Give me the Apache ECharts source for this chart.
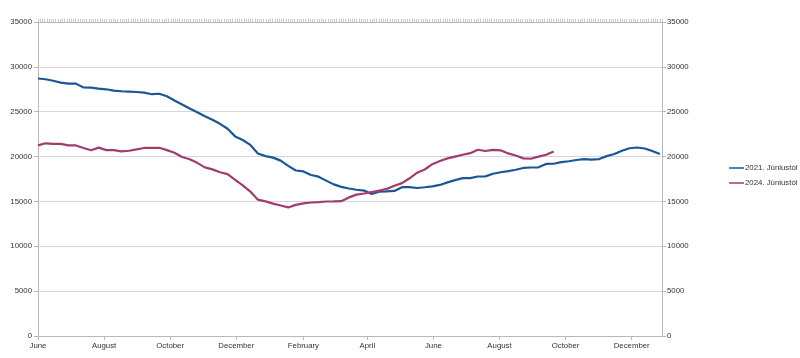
<!DOCTYPE html>
<html>
<head>
<meta charset="utf-8">
<script src="https://cdn.jsdelivr.net/npm/echarts@6/dist/echarts.min.js"></script>
<style>html,body{margin:0;padding:0;background:#fff}#c{width:800px;height:358px}</style>
</head>
<body>
<div id="c"></div>
<script>
// Days since June 1 at which month labels sit
const tickDays = [0, 61, 122, 183, 245, 304, 365, 426, 487, 548];
const tickLabels = ['June', 'August', 'October', 'December', 'February', 'April', 'June', 'August', 'October', 'December'];
const seriesNames = ['2021. Júniustól', '2024. Júniustól'];
// weekly values (one point per week from June 1)
const values2021 = [28700, 28620, 28450, 28250, 28130, 28130, 27700, 27680, 27580, 27500,
  27350, 27280, 27250, 27200, 27120, 26950, 27000, 26720, 26250, 25800,
  25350, 24950, 24500, 24100, 23650, 23100, 22250, 21850, 21300, 20350,
  20050, 19880, 19550, 18960, 18450, 18340, 17950, 17760, 17320, 16900,
  16620, 16440, 16300, 16210, 15820, 16080, 16120, 16170, 16590, 16600,
  16500, 16580, 16680, 16840, 17120, 17380, 17600, 17600, 17780, 17790,
  18080, 18250, 18380, 18530, 18730, 18780, 18800, 19180, 19200, 19380,
  19480, 19620, 19720, 19650, 19720, 20050, 20280, 20650, 20930, 21010,
  20900, 20620, 20280];
const values2024 = [21250, 21480, 21420, 21420, 21250, 21240, 20950, 20700, 21000, 20720,
  20720, 20580, 20650, 20800, 20960, 20980, 20980, 20720, 20420, 19950,
  19700, 19300, 18800, 18570, 18250, 18050, 17400, 16800, 16100, 15200,
  15000, 14750, 14550, 14330, 14620, 14780, 14880, 14930, 14990, 15000,
  15030, 15450, 15760, 15880, 16050, 16200, 16400, 16750, 17040, 17580,
  18200, 18560, 19150, 19500, 19800, 20000, 20200, 20380, 20760, 20620,
  20740, 20700, 20350, 20120, 19800, 19760, 20000, 20200, 20570];
const colors = ['#1b5796', '#a23c6e'];
const xMax = 576;
const daysPerWeek = 7;

const toPairs = vals => vals.map((v, i) => [i * daysPerWeek, v]);
const topTicks = new Array(283).fill('');
const font = 'Liberation Sans, Arial, sans-serif';
const axisGray = '#b8b8b8';
const textColor = '#333';
const fs = 7.8;

const chart = echarts.init(document.getElementById('c'), null, {renderer: 'canvas'});
chart.setOption({
  animation: false,
  backgroundColor: '#fff',
  color: colors,
  grid: {left: 38, right: 138, top: 22, bottom: 22, containLabel: false},
  legend: {
    orient: 'vertical', left: 729, top: 164, padding: 0,
    icon: 'rect', itemWidth: 15, itemHeight: 1.5, itemGap: 7,
    textStyle: {fontFamily: font, fontSize: fs, color: textColor, padding: [0, 0, 0, -4]},
    data: seriesNames
  },
  xAxis: [{
    type: 'value', position: 'bottom', min: 0, max: xMax,
    splitLine: {show: false},
    axisLine: {show: true, onZero: false, lineStyle: {color: axisGray}},
    axisTick: {show: true, length: 4, lineStyle: {color: axisGray}, customValues: tickDays},
    axisLabel: {
      customValues: tickDays, margin: 6,
      fontFamily: font, fontSize: fs, color: textColor,
      formatter: v => { const k = tickDays.indexOf(Math.round(v)); return k >= 0 ? tickLabels[k] : ''; }
    }
  }, {
    type: 'category', position: 'top', data: topTicks, boundaryGap: false,
    axisLine: {show: true, onZero: false, lineStyle: {color: axisGray}},
    axisTick: {show: true, interval: 0, length: 3, lineStyle: {color: '#c8c8c8'}},
    axisLabel: {show: false},
    splitLine: {show: false}
  }],
  yAxis: [{
    type: 'value', position: 'left', min: 0, max: 35000, interval: 5000,
    axisLine: {show: true, onZero: false, lineStyle: {color: axisGray}},
    axisTick: {show: true, length: 4, lineStyle: {color: axisGray}},
    axisLabel: {margin: 6, fontFamily: font, fontSize: fs, color: textColor, formatter: v => String(v)},
    splitLine: {show: true, lineStyle: {color: '#d6d6d6', width: 1}}
  }, {
    type: 'value', position: 'right', min: 0, max: 35000, interval: 5000,
    axisLine: {show: true, onZero: false, lineStyle: {color: axisGray}},
    axisTick: {show: true, length: 4, lineStyle: {color: axisGray}},
    axisLabel: {margin: 5, fontFamily: font, fontSize: fs, color: textColor, formatter: v => String(v)},
    splitLine: {show: false}
  }],
  series: [{
    name: seriesNames[0], type: 'line', xAxisIndex: 0, yAxisIndex: 0,
    data: toPairs(values2021), showSymbol: false, symbol: 'none',
    lineStyle: {width: 2.2, color: colors[0]}
  }, {
    name: seriesNames[1], type: 'line', xAxisIndex: 0, yAxisIndex: 0,
    data: toPairs(values2024), showSymbol: false, symbol: 'none',
    lineStyle: {width: 2.2, color: colors[1]}
  }]
});
</script>
</body>
</html>
